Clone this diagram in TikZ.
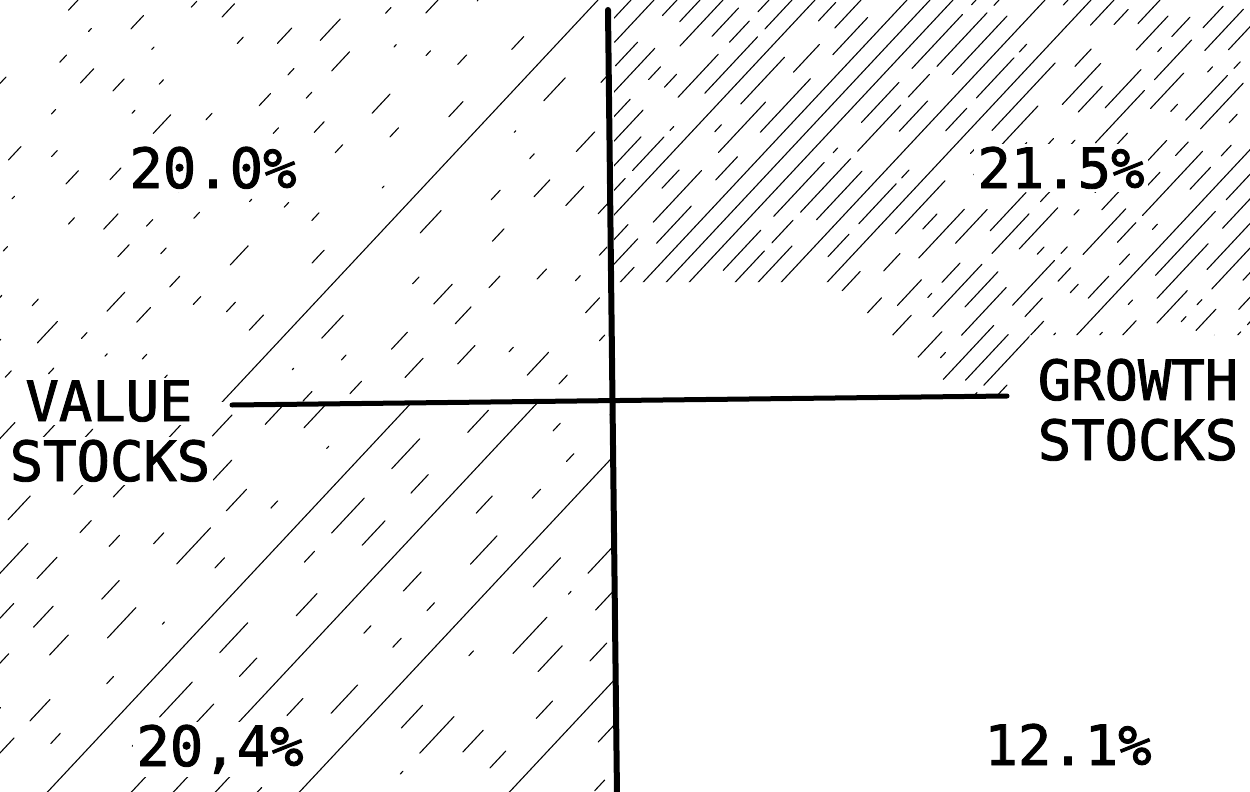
\documentclass[tikz,border=0pt]{standalone}
\usepackage{fontspec}
\newfontfamily\plotfont[FakeBold=1.6]{DejaVu Sans Mono}
\newcommand\myhatch[6]{%
  \pgfmathsetmacro\hS{rnd<#6 ? 0 : 1}%
  \pgfmathsetmacro\onA{#2+#3*rnd}%
  \pgfmathsetmacro\offA{\hS*(#4+#5*rnd)}%
  \pgfmathsetmacro\onB{#2+#3*rnd}%
  \pgfmathsetmacro\offB{\hS*(#4+#5*rnd)}%
  \pgfmathsetmacro\onC{#2+#3*rnd}%
  \pgfmathsetmacro\offC{\hS*(#4+#5*rnd)}%
  \pgfmathsetmacro\ph{300*rnd}%
  \draw[hatch, dash pattern=on \onA pt off \offA pt on \onB pt off \offB pt on \onC pt off \offC pt, dash phase=\ph pt] (#1,800) -- ++(748,-800);%
}
\begin{document}
\begin{tikzpicture}[x=1pt,y=-1pt,
  hatch/.style={line width=1.1pt, line cap=round, black},
  axisline/.style={line width=6pt, line cap=round, black},
  lbl/.style={font=\plotfont\fontsize{55.5}{60}\selectfont, anchor=base, inner sep=3pt, fill=white, text=black}]
\useasboundingbox (0,0) rectangle (1250,792);
\fill[white] (0,0) rectangle (1250,792);
\pgfmathsetseed{11}
% top-left hatching
\begin{scope}
  \clip (0,0) rectangle (607,401);
  \foreach \c in {-750,-710,...,240}{\myhatch{\c}{2}{30}{25}{90}{0.05}}
\end{scope}
% top-right hatching
\begin{scope}
  \clip (614,0) -- (1250,0) -- (1250,335) -- (1030,335) -- (1012,385) -- (1005,396) -- (962,396) -- (832,282) -- (614,282) -- cycle;
  \foreach \c in {-140,-117,...,880}{\myhatch{\c}{5}{90}{8}{50}{0.2}}
\end{scope}
% bottom-left hatching
\begin{scope}
  \clip (0,404) rectangle (613,792);
  \foreach \c in {-380,-338,...,610}{\myhatch{\c}{3}{50}{20}{70}{0.1}}
\end{scope}
% axes
\coordinate (vtop) at (608,10);
\coordinate (vbot) at (617,795);
\coordinate (hleft) at (232,405);
\coordinate (hright) at (1007,396);
\draw[axisline] (vtop) -- (vbot);
\draw[axisline, line width=5pt] (hleft) -- (hright);
% labels
\node[lbl] (tl) at (213,188) {20.0\%};
\node[lbl] (tr) at (1061,188) {21.5\%};
\node[lbl] (bl) at (220,766) {20,4\%};
\node[lbl] (br) at (1068,765) {12.1\%};
\node[lbl] (value1) at (109,421) {VALUE};
\node[lbl] (value2) at (110,481) {STOCKS};
\node[lbl] (growth1) at (1138,400) {GROWTH};
\node[lbl] (growth2) at (1138,460) {STOCKS};
\end{tikzpicture}
\end{document}
